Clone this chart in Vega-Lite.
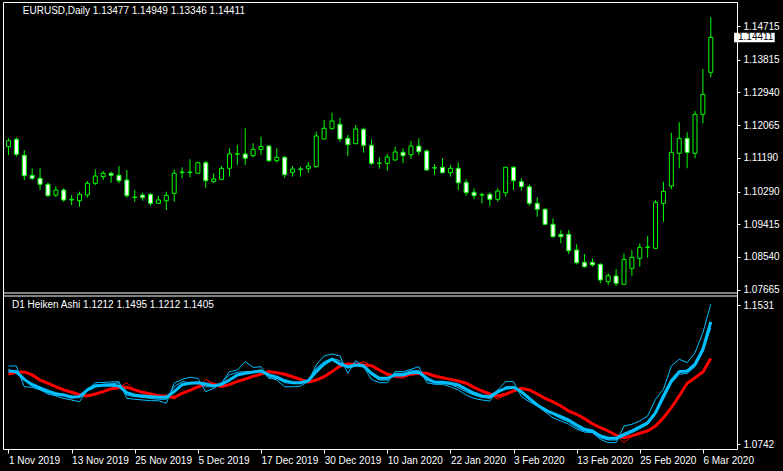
{
"$schema":"https://vega.github.io/schema/vega-lite/v6.json",
"background":"black",
"autosize":{"type":"none"},
"padding":{"left":3,"top":2,"right":46,"bottom":22},
"width":734,"height":447,
"config":{
 "view":{"stroke":"white","strokeWidth":1},
 "axis":{"labelColor":"white","tickColor":"white","labelFont":"Liberation Sans","labelFontSize":10,"grid":false,"domain":false,"title":null}
},
"datasets":{"bars":[
{"i":0,"d":"2019-11-01","o":1.11488,"h":1.11712,"l":1.11266,"c":1.11648,"b":1.1156,"r":1.1139,"r2":1.1139,"f":1.1185,"s":1.1166},
{"i":1,"d":"2019-11-04","o":1.11686,"h":1.11739,"l":1.11220,"c":1.11285,"b":1.1153,"r":1.1149,"r2":1.1149,"f":1.1185,"s":1.1143},
{"i":2,"d":"2019-11-05","o":1.11258,"h":1.11400,"l":1.10597,"c":1.10712,"b":1.1109,"r":1.1151,"r2":1.1151,"f":1.1067,"s":1.1105},
{"i":3,"d":"2019-11-06","o":1.10723,"h":1.10910,"l":1.10597,"c":1.10643,"b":1.1077,"r":1.1134,"r2":1.1134,"f":1.1064,"s":1.1087},
{"i":4,"d":"2019-11-07","o":1.10643,"h":1.10910,"l":1.10330,"c":1.10482,"b":1.1058,"r":1.1105,"r2":1.1105,"f":1.1049,"s":1.1067},
{"i":5,"d":"2019-11-08","o":1.10482,"h":1.10525,"l":1.10151,"c":1.10178,"b":1.1039,"r":1.1087,"r2":1.1087,"f":1.1026,"s":1.1049},
{"i":6,"d":"2019-11-11","o":1.10196,"h":1.10437,"l":1.10135,"c":1.10330,"b":1.1026,"r":1.1067,"r2":1.1067,"f":1.1015,"s":1.1033},
{"i":7,"d":"2019-11-12","o":1.10330,"h":1.10375,"l":1.10017,"c":1.10063,"b":1.1020,"r":1.1049,"r2":1.1049,"f":1.1001,"s":1.1024},
{"i":8,"d":"2019-11-13","o":1.10063,"h":1.10196,"l":1.09929,"c":1.10081,"b":1.1007,"r":1.1036,"r2":1.1036,"f":1.0992,"s":1.1015},
{"i":9,"d":"2019-11-14","o":1.10044,"h":1.10285,"l":1.09883,"c":1.10215,"b":1.1011,"r":1.1022,"r2":1.1022,"f":1.0982,"s":1.1007},
{"i":10,"d":"2019-11-15","o":1.10196,"h":1.10571,"l":1.10124,"c":1.10509,"b":1.1049,"r":1.1015,"r2":1.1015,"f":1.1049,"s":1.1058},
{"i":11,"d":"2019-11-18","o":1.10509,"h":1.10883,"l":1.10464,"c":1.10704,"b":1.1071,"r":1.1026,"r2":1.1026,"f":1.1090,"s":1.1077},
{"i":12,"d":"2019-11-19","o":1.10686,"h":1.10838,"l":1.10597,"c":1.10777,"b":1.1075,"r":1.1039,"r2":1.1039,"f":1.1092,"s":1.1081},
{"i":13,"d":"2019-11-20","o":1.10777,"h":1.10819,"l":1.10525,"c":1.10723,"b":1.1077,"r":1.1056,"r2":1.1056,"f":1.1094,"s":1.1083},
{"i":14,"d":"2019-11-21","o":1.10723,"h":1.10972,"l":1.10509,"c":1.10579,"b":1.1071,"r":1.1062,"r2":1.1062,"f":1.1096,"s":1.1090},
{"i":15,"d":"2019-11-22","o":1.10597,"h":1.10865,"l":1.10124,"c":1.10178,"b":1.1033,"r":1.1064,"r2":1.1090,"f":1.1001,"s":1.1020},
{"i":16,"d":"2019-11-25","o":1.10129,"h":1.10330,"l":1.10017,"c":1.10143,"b":1.1019,"r":1.1049,"r2":1.1049,"f":1.0996,"s":1.1011},
{"i":17,"d":"2019-11-26","o":1.10196,"h":1.10258,"l":1.10044,"c":1.10124,"b":1.1015,"r":1.1036,"r2":1.1036,"f":1.0992,"s":1.1007},
{"i":18,"d":"2019-11-27","o":1.10215,"h":1.10242,"l":1.09910,"c":1.09974,"b":1.1011,"r":1.1026,"r2":1.1026,"f":1.0988,"s":1.1001},
{"i":19,"d":"2019-11-28","o":1.09974,"h":1.10170,"l":1.09956,"c":1.10063,"b":1.1007,"r":1.1016,"r2":1.1016,"f":1.0988,"s":1.0996},
{"i":20,"d":"2019-11-29","o":1.10044,"h":1.10285,"l":1.09795,"c":1.10188,"b":1.1007,"r":1.1015,"r2":1.1015,"f":1.0973,"s":1.0996},
{"i":21,"d":"2019-12-02","o":1.10242,"h":1.10883,"l":1.10017,"c":1.10777,"b":1.1039,"r":1.1007,"r2":1.0998,"f":1.1087,"s":1.1067},
{"i":22,"d":"2019-12-03","o":1.10795,"h":1.10937,"l":1.10643,"c":1.10811,"b":1.1079,"r":1.1030,"r2":1.1030,"f":1.1109,"s":1.1096},
{"i":23,"d":"2019-12-04","o":1.10795,"h":1.11151,"l":1.10670,"c":1.10811,"b":1.1087,"r":1.1047,"r2":1.1047,"f":1.1121,"s":1.1090},
{"i":24,"d":"2019-12-05","o":1.10777,"h":1.11087,"l":1.10758,"c":1.11060,"b":1.1090,"r":1.1067,"r2":1.1067,"f":1.1115,"s":1.1090},
{"i":25,"d":"2019-12-06","o":1.11060,"h":1.11105,"l":1.10392,"c":1.10579,"b":1.1083,"r":1.1081,"r2":1.1109,"f":1.1039,"s":1.1067},
{"i":26,"d":"2019-12-09","o":1.10552,"h":1.10777,"l":1.10525,"c":1.10624,"b":1.1071,"r":1.1083,"r2":1.1083,"f":1.1058,"s":1.1067},
{"i":27,"d":"2019-12-10","o":1.10616,"h":1.10972,"l":1.10597,"c":1.10910,"b":1.1081,"r":1.1069,"r2":1.1069,"f":1.1087,"s":1.1090},
{"i":28,"d":"2019-12-11","o":1.10910,"h":1.11445,"l":1.10686,"c":1.11293,"b":1.1105,"r":1.1079,"r2":1.1079,"f":1.1153,"s":1.1134},
{"i":29,"d":"2019-12-12","o":1.11285,"h":1.11533,"l":1.10998,"c":1.11300,"b":1.1134,"r":1.1097,"r2":1.1097,"f":1.1162,"s":1.1149},
{"i":30,"d":"2019-12-13","o":1.11293,"h":1.11980,"l":1.10998,"c":1.11178,"b":1.1143,"r":1.1110,"r2":1.1110,"f":1.1209,"s":1.1153},
{"i":31,"d":"2019-12-16","o":1.11247,"h":1.11579,"l":1.11204,"c":1.11418,"b":1.1151,"r":1.1126,"r2":1.1126,"f":1.1177,"s":1.1153},
{"i":32,"d":"2019-12-17","o":1.11418,"h":1.11755,"l":1.11266,"c":1.11493,"b":1.1156,"r":1.1139,"r2":1.1139,"f":1.1181,"s":1.1162},
{"i":33,"d":"2019-12-18","o":1.11506,"h":1.11533,"l":1.11087,"c":1.11113,"b":1.1134,"r":1.1153,"r2":1.1153,"f":1.1121,"s":1.1115},
{"i":34,"d":"2019-12-19","o":1.11113,"h":1.11445,"l":1.11060,"c":1.11204,"b":1.1121,"r":1.1147,"r2":1.1147,"f":1.1105,"s":1.1115},
{"i":35,"d":"2019-12-20","o":1.11204,"h":1.11239,"l":1.10659,"c":1.10739,"b":1.1101,"r":1.1138,"r2":1.1138,"f":1.1067,"s":1.1090},
{"i":36,"d":"2019-12-23","o":1.10803,"h":1.10972,"l":1.10686,"c":1.10891,"b":1.1090,"r":1.1124,"r2":1.1124,"f":1.1067,"s":1.1087},
{"i":37,"d":"2019-12-24","o":1.10891,"h":1.10953,"l":1.10686,"c":1.10883,"b":1.1090,"r":1.1109,"r2":1.1109,"f":1.1071,"s":1.1087},
{"i":38,"d":"2019-12-26","o":1.10910,"h":1.11079,"l":1.10793,"c":1.10972,"b":1.1101,"r":1.1094,"r2":1.1088,"f":1.1096,"s":1.1105},
{"i":39,"d":"2019-12-27","o":1.10953,"h":1.11889,"l":1.10937,"c":1.11774,"b":1.1153,"r":1.1105,"r2":1.1105,"f":1.1191,"s":1.1172},
{"i":40,"d":"2019-12-30","o":1.11694,"h":1.12202,"l":1.11686,"c":1.11980,"b":1.1196,"r":1.1124,"r2":1.1124,"f":1.1242,"s":1.1209},
{"i":41,"d":"2019-12-31","o":1.11969,"h":1.12397,"l":1.11953,"c":1.12175,"b":1.1223,"r":1.1153,"r2":1.1153,"f":1.1253,"s":1.1229},
{"i":42,"d":"2020-01-02","o":1.12087,"h":1.12263,"l":1.11621,"c":1.11694,"b":1.1196,"r":1.1185,"r2":1.1185,"f":1.1242,"s":1.1215},
{"i":43,"d":"2020-01-03","o":1.11712,"h":1.11801,"l":1.11239,"c":1.11541,"b":1.1181,"r":1.1196,"r2":1.1190,"f":1.1143,"s":1.1172},
{"i":44,"d":"2020-01-06","o":1.11568,"h":1.12068,"l":1.11560,"c":1.11961,"b":1.1191,"r":1.1195,"r2":1.1195,"f":1.1215,"s":1.1185},
{"i":45,"d":"2020-01-07","o":1.11953,"h":1.11996,"l":1.11327,"c":1.11525,"b":1.1185,"r":1.1191,"r2":1.1209,"f":1.1181,"s":1.1191},
{"i":46,"d":"2020-01-08","o":1.11525,"h":1.11686,"l":1.10998,"c":1.11044,"b":1.1143,"r":1.1187,"r2":1.1187,"f":1.1109,"s":1.1134},
{"i":47,"d":"2020-01-09","o":1.11044,"h":1.11204,"l":1.10900,"c":1.11052,"b":1.1115,"r":1.1162,"r2":1.1162,"f":1.1090,"s":1.1105},
{"i":48,"d":"2020-01-10","o":1.11044,"h":1.11293,"l":1.10846,"c":1.11212,"b":1.1115,"r":1.1138,"r2":1.1138,"f":1.1090,"s":1.1105},
{"i":49,"d":"2020-01-13","o":1.11132,"h":1.11488,"l":1.11113,"c":1.11346,"b":1.1134,"r":1.1128,"r2":1.1122,"f":1.1153,"s":1.1143},
{"i":50,"d":"2020-01-14","o":1.11338,"h":1.11445,"l":1.11044,"c":1.11247,"b":1.1134,"r":1.1128,"r2":1.1115,"f":1.1153,"s":1.1143},
{"i":51,"d":"2020-01-15","o":1.11274,"h":1.11640,"l":1.11159,"c":1.11506,"b":1.1147,"r":1.1138,"r2":1.1138,"f":1.1166,"s":1.1158},
{"i":52,"d":"2020-01-16","o":1.11506,"h":1.11712,"l":1.11266,"c":1.11354,"b":1.1149,"r":1.1143,"r2":1.1143,"f":1.1181,"s":1.1158},
{"i":53,"d":"2020-01-17","o":1.11373,"h":1.11418,"l":1.10838,"c":1.10865,"b":1.1115,"r":1.1143,"r2":1.1143,"f":1.1090,"s":1.1105},
{"i":54,"d":"2020-01-20","o":1.10926,"h":1.11025,"l":1.10731,"c":1.10918,"b":1.1092,"r":1.1128,"r2":1.1128,"f":1.1081,"s":1.1090},
{"i":55,"d":"2020-01-21","o":1.10937,"h":1.11178,"l":1.10777,"c":1.10793,"b":1.1092,"r":1.1118,"r2":1.1118,"f":1.1081,"s":1.1087},
{"i":56,"d":"2020-01-22","o":1.10793,"h":1.10998,"l":1.10686,"c":1.10910,"b":1.1087,"r":1.1109,"r2":1.1109,"f":1.1067,"s":1.1081},
{"i":57,"d":"2020-01-23","o":1.10910,"h":1.11071,"l":1.10330,"c":1.10525,"b":1.1077,"r":1.1100,"r2":1.1100,"f":1.1049,"s":1.1062},
{"i":58,"d":"2020-01-24","o":1.10536,"h":1.10616,"l":1.10178,"c":1.10258,"b":1.1053,"r":1.1087,"r2":1.1087,"f":1.1020,"s":1.1039},
{"i":59,"d":"2020-01-27","o":1.10269,"h":1.10375,"l":1.10081,"c":1.10178,"b":1.1030,"r":1.1064,"r2":1.1064,"f":1.1001,"s":1.1020},
{"i":60,"d":"2020-01-28","o":1.10196,"h":1.10258,"l":1.09974,"c":1.10204,"b":1.1015,"r":1.1043,"r2":1.1043,"f":1.0992,"s":1.1007},
{"i":61,"d":"2020-01-29","o":1.10215,"h":1.10269,"l":1.09902,"c":1.10081,"b":1.1011,"r":1.1026,"r2":1.1026,"f":1.0986,"s":1.1001},
{"i":62,"d":"2020-01-30","o":1.10081,"h":1.10375,"l":1.10017,"c":1.10303,"b":1.1039,"r":1.1015,"r2":1.0996,"f":1.1049,"s":1.1030},
{"i":63,"d":"2020-01-31","o":1.10258,"h":1.10945,"l":1.10151,"c":1.10937,"b":1.1058,"r":1.1024,"r2":1.1024,"f":1.1096,"s":1.1067},
{"i":64,"d":"2020-02-03","o":1.10937,"h":1.10972,"l":1.10330,"c":1.10579,"b":1.1064,"r":1.1043,"r2":1.1043,"f":1.1096,"s":1.1067},
{"i":65,"d":"2020-02-04","o":1.10552,"h":1.10643,"l":1.10311,"c":1.10418,"b":1.1039,"r":1.1058,"r2":1.1058,"f":1.1011,"s":1.1030},
{"i":66,"d":"2020-02-05","o":1.10418,"h":1.10482,"l":1.09910,"c":1.09974,"b":1.1001,"r":1.1049,"r2":1.1049,"f":1.0982,"s":1.0992},
{"i":67,"d":"2020-02-06","o":1.09974,"h":1.10135,"l":1.09616,"c":1.09814,"b":1.0964,"r":1.1026,"r2":1.1026,"f":1.0958,"s":1.0964},
{"i":68,"d":"2020-02-07","o":1.09814,"h":1.09841,"l":1.09394,"c":1.09413,"b":1.0935,"r":1.1001,"r2":1.1001,"f":1.0925,"s":1.0945},
{"i":69,"d":"2020-02-10","o":1.09413,"h":1.09573,"l":1.09065,"c":1.09081,"b":1.0916,"r":1.0981,"r2":1.0981,"f":1.0891,"s":1.0911},
{"i":70,"d":"2020-02-11","o":1.09146,"h":1.09260,"l":1.08905,"c":1.09081,"b":1.0897,"r":1.0958,"r2":1.0958,"f":1.0873,"s":1.0886},
{"i":71,"d":"2020-02-12","o":1.09146,"h":1.09260,"l":1.08619,"c":1.08707,"b":1.0878,"r":1.0929,"r2":1.0929,"f":1.0854,"s":1.0867},
{"i":72,"d":"2020-02-13","o":1.08726,"h":1.08878,"l":1.08343,"c":1.08386,"b":1.0850,"r":1.0911,"r2":1.0911,"f":1.0826,"s":1.0835},
{"i":73,"d":"2020-02-14","o":1.08397,"h":1.08619,"l":1.08252,"c":1.08279,"b":1.0826,"r":1.0886,"r2":1.0886,"f":1.0810,"s":1.0816},
{"i":74,"d":"2020-02-17","o":1.08397,"h":1.08504,"l":1.08279,"c":1.08325,"b":1.0816,"r":1.0857,"r2":1.0857,"f":1.0806,"s":1.0810},
{"i":75,"d":"2020-02-18","o":1.08343,"h":1.08370,"l":1.07835,"c":1.07924,"b":1.0788,"r":1.0835,"r2":1.0835,"f":1.0769,"s":1.0778},
{"i":76,"d":"2020-02-19","o":1.07878,"h":1.08103,"l":1.07790,"c":1.08039,"b":1.0775,"r":1.0816,"r2":1.0816,"f":1.0750,"s":1.0765},
{"i":77,"d":"2020-02-20","o":1.08031,"h":1.08218,"l":1.07763,"c":1.07835,"b":1.0775,"r":1.0792,"r2":1.0792,"f":1.0750,"s":1.0765},
{"i":78,"d":"2020-02-21","o":1.07809,"h":1.08637,"l":1.07800,"c":1.08477,"b":1.0797,"r":1.0778,"r2":1.0750,"f":1.0844,"s":1.0788},
{"i":79,"d":"2020-02-24","o":1.08236,"h":1.08726,"l":1.08031,"c":1.08531,"b":1.0816,"r":1.0788,"r2":1.0788,"f":1.0854,"s":1.0806},
{"i":80,"d":"2020-02-25","o":1.08504,"h":1.08905,"l":1.08279,"c":1.08798,"b":1.0839,"r":1.0803,"r2":1.0803,"f":1.0873,"s":1.0829},
{"i":81,"d":"2020-02-26","o":1.08798,"h":1.09100,"l":1.08520,"c":1.08806,"b":1.0863,"r":1.0816,"r2":1.0816,"f":1.0901,"s":1.0854},
{"i":82,"d":"2020-02-27","o":1.08771,"h":1.10063,"l":1.08760,"c":1.10001,"b":1.0920,"r":1.0844,"r2":1.0844,"f":1.0996,"s":1.0911},
{"i":83,"d":"2020-02-28","o":1.09974,"h":1.10552,"l":1.09482,"c":1.10295,"b":1.1015,"r":1.0891,"r2":1.0891,"f":1.1053,"s":1.0996},
{"i":84,"d":"2020-03-02","o":1.10437,"h":1.11862,"l":1.10349,"c":1.11338,"b":1.1100,"r":1.0948,"r2":1.0948,"f":1.1185,"s":1.1087},
{"i":85,"d":"2020-03-03","o":1.11311,"h":1.12140,"l":1.10910,"c":1.11712,"b":1.1153,"r":1.1015,"r2":1.1015,"f":1.1223,"s":1.1138},
{"i":86,"d":"2020-03-04","o":1.11712,"h":1.11873,"l":1.10910,"c":1.11338,"b":1.1156,"r":1.1087,"r2":1.1087,"f":1.1204,"s":1.1143},
{"i":87,"d":"2020-03-05","o":1.11311,"h":1.12442,"l":1.11178,"c":1.12354,"b":1.1195,"r":1.1118,"r2":1.1118,"f":1.1260,"s":1.1181},
{"i":88,"d":"2020-03-06","o":1.12354,"h":1.13565,"l":1.12113,"c":1.12889,"b":1.1280,"r":1.1151,"r2":1.1151,"f":1.1374,"s":1.1264},
{"i":89,"d":"2020-03-09","o":1.13477,"h":1.14949,"l":1.13346,"c":1.14411,"b":1.1435,"r":1.1228,"r2":1.1228,"f":1.1535,"s":1.1402}
]},
"resolve":{"scale":{"y":"independent"},"axis":{"y":"independent"}},
"layer":[
 {"layer":[
  {"data":{"name":"bars"},
   "mark":{"type":"rule","color":"#00FF00","strokeWidth":1,"clip":true},
   "encoding":{
    "x":{"field":"i","type":"quantitative","scale":{"domain":[-0.0625,91.6875],"nice":false,"zero":false},
       "axis":{"orient":"bottom","values":[0,8,16,24,32,40,48,56,64,72,80,88],
               "labelExpr":"['1 Nov 2019','13 Nov 2019','25 Nov 2019','5 Dec 2019','17 Dec 2019','30 Dec 2019','10 Jan 2020','22 Jan 2020','3 Feb 2020','13 Feb 2020','25 Feb 2020','6 Mar 2020'][round(datum.value/8)]",
               "labelAlign":"left","tickSize":4,"labelPadding":2,"labelFlush":false,"labelOverlap":false,"labelBound":false}},
    "y":{"field":"l","type":"quantitative","scale":{"domain":[1.03405,1.15357],"nice":false,"zero":false},
         "axis":{"orient":"right","values":[1.07665,1.0854,1.09415,1.1029,1.1119,1.12065,1.1294,1.13815,1.14715],"format":".5f","tickSize":3,"labelPadding":3,"labelFlush":false,"labelOverlap":false,"labelBound":false}},
    "y2":{"field":"h"}}},
  {"data":{"name":"bars"},
   "mark":{"type":"bar","size":4,"stroke":"#00FF00","strokeWidth":1,"clip":true},
   "encoding":{
    "x":{"field":"i","type":"quantitative","scale":{"domain":[-0.0625,91.6875],"nice":false,"zero":false}},
    "y":{"field":"o","type":"quantitative","scale":{"domain":[1.03405,1.15357],"nice":false,"zero":false}},
    "y2":{"field":"c"},
    "fill":{"condition":{"test":"datum.c >= datum.o","value":"#000000"},"value":"#FFFFFF"}}},
  {"data":{"values":[{}]},
   "mark":{"type":"rule","color":"#FFFFFF","strokeWidth":1},
   "encoding":{
    "y":{"datum":1.07576,"type":"quantitative","scale":{"domain":[1.03405,1.15357],"nice":false,"zero":false}}}},
  {"data":{"values":[{}]},
   "mark":{"type":"rect","fill":"#FFFFFF"},
   "encoding":{
    "x":{"datum":91.95,"type":"quantitative","scale":{"domain":[-0.0625,91.6875],"nice":false,"zero":false}},
    "x2":{"datum":97.1},
    "y":{"datum":1.14536,"type":"quantitative","scale":{"domain":[1.03405,1.15357],"nice":false,"zero":false}},
    "y2":{"datum":1.14279}}},
  {"data":{"values":[{}]},
   "mark":{"type":"text","text":"1.14411","align":"left","baseline":"middle","color":"#000000","font":"Liberation Sans","fontSize":10},
   "encoding":{
    "x":{"datum":92.45,"type":"quantitative","scale":{"domain":[-0.0625,91.6875],"nice":false,"zero":false}},
    "y":{"datum":1.14411,"type":"quantitative","scale":{"domain":[1.03405,1.15357],"nice":false,"zero":false}}}},
  {"data":{"values":[{}]},
   "mark":{"type":"text","text":"EURUSD,Daily  1.13477 1.14949 1.13346 1.14411","align":"left","baseline":"middle","color":"#FFFFFF","font":"Liberation Sans","fontSize":10},
   "encoding":{
    "x":{"datum":1.8125,"type":"quantitative","scale":{"domain":[-0.0625,91.6875],"nice":false,"zero":false}},
    "y":{"datum":1.15124,"type":"quantitative","scale":{"domain":[1.03405,1.15357],"nice":false,"zero":false}}}}
 ]},
 {"layer":[
  {"data":{"name":"bars"},
   "mark":{"type":"line","color":"#FF0000","strokeWidth":1},
   "encoding":{
    "x":{"field":"i","type":"quantitative","scale":{"domain":[-0.0625,91.6875],"nice":false,"zero":false}},
    "y":{"field":"r2","type":"quantitative","scale":{"domain":[1.07138,1.32506],"nice":false,"zero":false},
     "axis":{"orient":"right","values":[1.0742,1.1531],"format":".4f","tickSize":3,"labelPadding":3,"labelFlush":false,"labelOverlap":false,"labelBound":false}}}},
  {"data":{"name":"bars"},
   "mark":{"type":"line","color":"#FF0000","strokeWidth":3},
   "encoding":{
    "x":{"field":"i","type":"quantitative","scale":{"domain":[-0.0625,91.6875],"nice":false,"zero":false}},
    "y":{"field":"r","type":"quantitative","scale":{"domain":[1.07138,1.32506],"nice":false,"zero":false}}}},
  {"data":{"name":"bars"},
   "mark":{"type":"line","color":"#00BFFF","strokeWidth":1},
   "encoding":{
    "x":{"field":"i","type":"quantitative","scale":{"domain":[-0.0625,91.6875],"nice":false,"zero":false}},
    "y":{"field":"f","type":"quantitative","scale":{"domain":[1.07138,1.32506],"nice":false,"zero":false}}}},
  {"data":{"name":"bars"},
   "mark":{"type":"line","color":"#00BFFF","strokeWidth":1},
   "encoding":{
    "x":{"field":"i","type":"quantitative","scale":{"domain":[-0.0625,91.6875],"nice":false,"zero":false}},
    "y":{"field":"s","type":"quantitative","scale":{"domain":[1.07138,1.32506],"nice":false,"zero":false}}}},
  {"data":{"name":"bars"},
   "mark":{"type":"line","color":"#00BFFF","strokeWidth":3},
   "encoding":{
    "x":{"field":"i","type":"quantitative","scale":{"domain":[-0.0625,91.6875],"nice":false,"zero":false}},
    "y":{"field":"b","type":"quantitative","scale":{"domain":[1.07138,1.32506],"nice":false,"zero":false}}}},
  {"data":{"values":[{}]},
   "mark":{"type":"rule","color":"#FFFFFF","strokeWidth":1},
   "encoding":{
    "y":{"datum":1.15821,"type":"quantitative","scale":{"domain":[1.07138,1.32506],"nice":false,"zero":false}}}},
  {"data":{"values":[{}]},
   "mark":{"type":"text","text":"D1 Heiken Ashi 1.1212 1.1495 1.1212 1.1405","align":"left","baseline":"middle","color":"#FFFFFF","font":"Liberation Sans","fontSize":10},
   "encoding":{
    "x":{"datum":0.4375,"type":"quantitative","scale":{"domain":[-0.0625,91.6875],"nice":false,"zero":false}},
    "y":{"datum":1.15327,"type":"quantitative","scale":{"domain":[1.07138,1.32506],"nice":false,"zero":false}}}}
 ]}
]
}
